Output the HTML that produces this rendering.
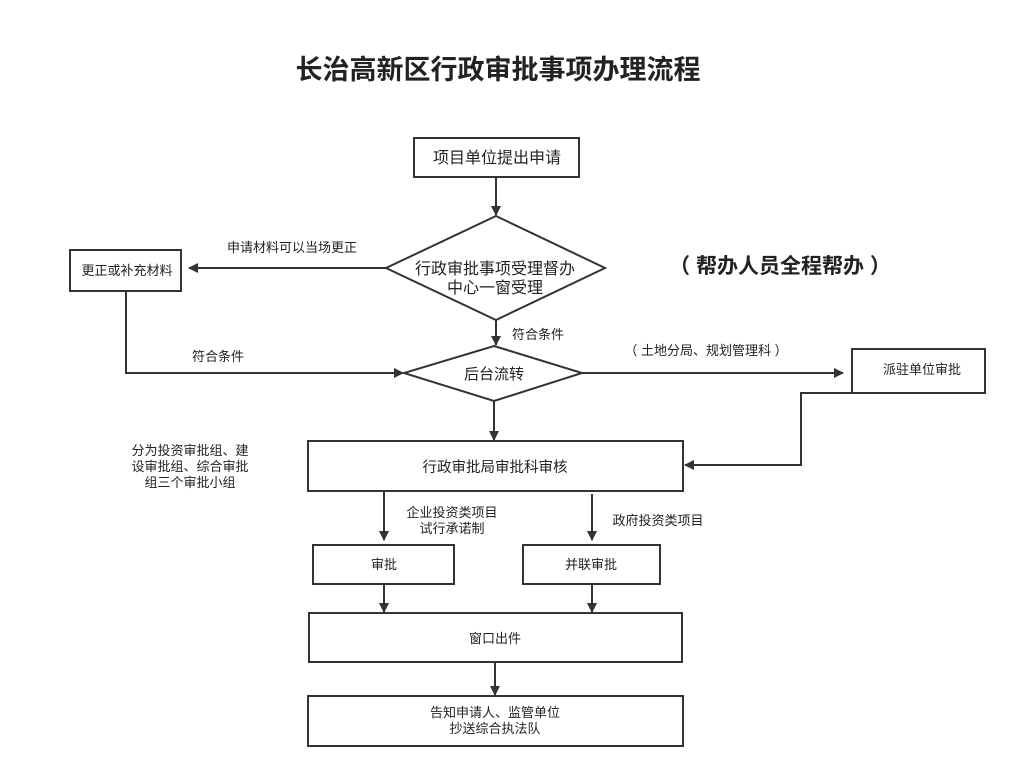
<!DOCTYPE html>
<html><head><meta charset="utf-8"><style>
html,body{margin:0;padding:0;background:#fff;}
svg text{font-family:"Liberation Sans","Noto Sans CJK SC",sans-serif;fill:#222;}
</style></head><body>
<svg width="1036" height="777" viewBox="0 0 1036 777" xmlns="http://www.w3.org/2000/svg">
<defs>
<marker id="a" markerWidth="10" markerHeight="10" refX="9" refY="5" orient="auto" markerUnits="userSpaceOnUse">
<path d="M0,0 L10,5 L0,10 z" fill="#333"/></marker>
</defs>
<text x="498" y="79" text-anchor="middle" font-size="27" font-weight="bold" fill="#111">长治高新区行政审批事项办理流程</text>
<text x="780" y="273" text-anchor="middle" font-size="21" font-weight="bold">（ 帮办人员全程帮办 ）</text>
<g fill="#fff" stroke="#333" stroke-width="2">
<rect x="414" y="138" width="165" height="39"/>
<rect x="70" y="250" width="111" height="41"/>
<polygon points="496,216 605,268 496,320 386,268"/>
<polygon points="494,346 582,373 494,401 404,373"/>
<rect x="852" y="349" width="133" height="44"/>
<rect x="308" y="441" width="375" height="50"/>
<rect x="313" y="545" width="141" height="39"/>
<rect x="523" y="545" width="137" height="39"/>
<rect x="309" y="613" width="373" height="49"/>
<rect x="308" y="696" width="375" height="50"/>
</g>
<g stroke="#333" stroke-width="2" fill="none">
<line x1="496" y1="177" x2="496" y2="215" marker-end="url(#a)"/>
<line x1="386" y1="268" x2="189" y2="268" marker-end="url(#a)"/>
<polyline points="126,291 126,373 403,373" marker-end="url(#a)"/>
<line x1="496" y1="320" x2="496" y2="345" marker-end="url(#a)"/>
<line x1="582" y1="373" x2="843" y2="373" marker-end="url(#a)"/>
<polyline points="920,393 801,393 801,465 685,465" marker-end="url(#a)"/>
<line x1="494" y1="401" x2="494" y2="440" marker-end="url(#a)"/>
<line x1="384" y1="492" x2="384" y2="540" marker-end="url(#a)"/>
<line x1="592" y1="494" x2="592" y2="540" marker-end="url(#a)"/>
<line x1="384" y1="584" x2="384" y2="612" marker-end="url(#a)"/>
<line x1="592" y1="584" x2="592" y2="612" marker-end="url(#a)"/>
<line x1="495" y1="663" x2="495" y2="695" marker-end="url(#a)"/>
</g>
<g font-size="16" text-anchor="middle">
<text x="497" y="163">项目单位提出申请</text>
<text x="495" y="274">行政审批事项受理督办</text>
<text x="495" y="293">中心一窗受理</text>
<text x="494" y="379" font-size="15">后台流转</text>
<text x="495" y="472" font-size="14.5">行政审批局审批科审核</text>
</g>
<g font-size="13" text-anchor="middle">
<text x="127" y="275">更正或补充材料</text>
<text x="292" y="252">申请材料可以当场更正</text>
<text x="218" y="361">符合条件</text>
<text x="538" y="339">符合条件</text>
<text x="706" y="355">（ 土地分局、规划管理科 ）</text>
<text x="922" y="374">派驻单位审批</text>
<text x="190" y="455">分为投资审批组、建</text>
<text x="190" y="471">设审批组、综合审批</text>
<text x="190" y="487">组三个审批小组</text>
<text x="452" y="517">企业投资类项目</text>
<text x="452" y="533">试行承诺制</text>
<text x="658" y="525">政府投资类项目</text>
<text x="384" y="569">审批</text>
<text x="591" y="569">并联审批</text>
<text x="495" y="643">窗口出件</text>
<text x="495" y="717">告知申请人、监管单位</text>
<text x="495" y="733">抄送综合执法队</text>
</g>
</svg>
</body></html>
